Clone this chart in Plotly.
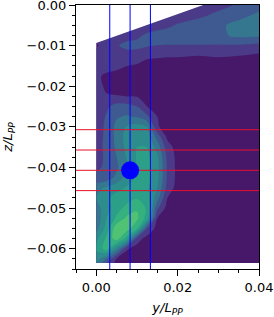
import plotly.graph_objects as go

y_grid = [0.0, 0.0025, 0.005, 0.0075, 0.01, 0.0125, 0.015, 0.0175, 0.02, 0.025, 0.03, 0.035, 0.04]
z_grid = [0.0, -0.0025, -0.005, -0.0075, -0.01, -0.0125, -0.015, -0.0175, -0.02, -0.0225, -0.025,
          -0.0275, -0.03, -0.0325, -0.035, -0.0375, -0.04, -0.0425, -0.045, -0.0475, -0.05,
          -0.0525, -0.055, -0.0575, -0.06, -0.0625, -0.0635]
field = [
    [1.2, 1.2, 1.2, 1.2, 1.2, 1.2, 1.2, 1.2, 1.2, 1.5, 1.7, 2.1, 2.6],
    [1.3, 1.3, 1.3, 1.3, 1.3, 1.3, 1.3, 1.3, 1.4, 1.8, 2.2, 2.7, 3.2],
    [1.3, 1.3, 1.3, 1.3, 1.3, 1.4, 1.6, 1.8, 2.1, 2.4, 2.8, 3.3, 3.5],
    [1.3, 1.3, 1.3, 1.6, 1.8, 2.2, 2.4, 2.5, 2.5, 2.6, 2.8, 3.2, 3.2],
    [0.9, 1.4, 1.9, 2.3, 2.3, 2.1, 1.98, 1.95, 1.95, 1.95, 1.9, 1.9, 1.7],
    [1.3, 1.4, 1.5, 1.5, 1.4, 1.1, 1.1, 1.05, 1.05, 1.0, 1.05, 1.0, 0.8],
    [1.2, 1.2, 1.15, 1.0, 0.9, 0.8, 0.7, 0.7, 0.7, 0.7, 0.7, 0.7, 0.6],
    [1.1, 0.9, 0.8, 0.7, 0.6, 0.6, 0.5, 0.5, 0.5, 0.5, 0.5, 0.5, 0.5],
    [1.2, 0.9, 0.7, 0.6, 0.5, 0.5, 0.5, 0.5, 0.5, 0.5, 0.5, 0.5, 0.5],
    [1.3, 1.05, 1.05, 1.0, 0.95, 0.8, 0.5, 0.5, 0.5, 0.5, 0.5, 0.5, 0.5],
    [1.3, 1.8, 2.4, 2.4, 2.0, 1.0, 0.5, 0.5, 0.5, 0.5, 0.5, 0.5, 0.5],
    [1.4, 2.1, 2.9, 3.1, 2.9, 2.2, 1.0, 0.5, 0.5, 0.5, 0.5, 0.5, 0.5],
    [1.5, 2.2, 3.3, 4.1, 4.4, 4.0, 1.1, 0.6, 0.5, 0.5, 0.5, 0.5, 0.5],
    [1.6, 2.2, 3.3, 4.4, 4.9, 4.5, 2.6, 0.8, 0.5, 0.5, 0.5, 0.5, 0.5],
    [1.7, 2.2, 3.2, 4.3, 5.0, 5.0, 3.6, 1.4, 0.6, 0.5, 0.5, 0.5, 0.5],
    [1.8, 2.1, 3.0, 4.1, 5.1, 5.3, 4.2, 1.7, 0.7, 0.5, 0.5, 0.5, 0.5],
    [1.9, 2.1, 2.8, 4.0, 5.1, 5.4, 4.4, 1.8, 0.7, 0.5, 0.5, 0.5, 0.5],
    [2.2, 2.4, 3.3, 4.4, 5.2, 5.4, 4.3, 1.8, 0.7, 0.5, 0.5, 0.5, 0.5],
    [3.6, 4.2, 4.6, 5.1, 5.3, 5.2, 4.0, 1.6, 0.6, 0.5, 0.5, 0.5, 0.5],
    [4.0, 4.8, 5.5, 5.6, 5.9, 5.4, 3.4, 1.0, 0.5, 0.5, 0.5, 0.5, 0.5],
    [3.6, 4.6, 5.6, 6.3, 6.9, 5.8, 2.2, 0.6, 0.5, 0.5, 0.5, 0.5, 0.5],
    [3.2, 5.0, 6.2, 7.2, 7.2, 5.5, 1.0, 0.5, 0.5, 0.5, 0.5, 0.5, 0.5],
    [3.6, 5.4, 7.7, 7.5, 6.2, 1.9, 0.6, 0.5, 0.5, 0.5, 0.5, 0.5, 0.5],
    [4.7, 6.2, 7.5, 5.6, 1.5, 0.6, 0.5, 0.5, 0.5, 0.5, 0.5, 0.5, 0.5],
    [5.2, 6.5, 4.0, 1.1, 0.6, 0.5, 0.5, 0.5, 0.5, 0.5, 0.5, 0.5, 0.5],
    [4.5, 3.0, 0.9, 0.5, 0.5, 0.5, 0.5, 0.5, 0.5, 0.5, 0.5, 0.5, 0.5],
    [4.1, 1.9, 0.7, 0.5, 0.5, 0.5, 0.5, 0.5, 0.5, 0.5, 0.5, 0.5, 0.5],
]
band_colors = ["#47176a", "#4b3a88", "#3f5a90", "#34778f", "#2d8c8c", "#2b9f87", "#35b07f", "#4fc274", "#8ed45d"]
blank_y = [-0.0002, 0.0263, -0.0002]
blank_z = [-0.0094, 0.0, 0.0]
vertical_y = [0.0033, 0.0083, 0.0133]
horizontal_z = [-0.0307, -0.0357, -0.0407, -0.0457]
probe_y = [0.0083]
probe_z = [-0.0407]
x_range = [-0.005, 0.04]
z_range = [-0.065, 0.0]

n = len(band_colors)
scale = [[0, band_colors[0]]]
for i, c in enumerate(band_colors):
    upper = min((i + 1.4) / n, 1)
    lower = (i + 0.4) / n
    if i > 0:
        scale.append([lower, c])
    scale.append([upper, c])

fig = go.Figure()
fig.add_trace(go.Contour(
    x=y_grid, y=z_grid, z=field, zmin=0, zmax=n, colorscale=scale, showscale=False,
    autocontour=False, contours=dict(start=0, end=n, size=1, coloring="fill"),
    line=dict(width=0), hoverinfo="skip"))
fig.add_trace(go.Scatter(x=blank_y, y=blank_z, mode="lines", fill="toself",
                         fillcolor="white", line=dict(width=0)))
for v in vertical_y:
    fig.add_trace(go.Scatter(x=[v, v], y=z_range, mode="lines", line=dict(color="#0000ff", width=1)))
for h in horizontal_z:
    fig.add_trace(go.Scatter(x=x_range, y=[h, h], mode="lines", line=dict(color="#e8102a", width=1)))
fig.add_trace(go.Scatter(x=probe_y, y=probe_z, mode="markers",
                         marker=dict(color="#0000ff", size=18, line=dict(width=0))))

font = dict(family="DejaVu Sans", size=13, color="black")
axis = dict(showgrid=False, zeroline=False, showline=True, linecolor="black", linewidth=1, mirror=True,
            ticks="outside", ticklen=6, tickwidth=1, tickcolor="black", tickformat=".2f", tickfont=font,
            ticklabeloverflow="allow", automargin=False)
fig.update_layout(
    width=274, height=317, autosize=False, showlegend=False,
    margin=dict(l=75.5, r=15, t=5, b=47.5),
    paper_bgcolor="white", plot_bgcolor="white",
    xaxis=dict(axis, range=x_range, tick0=0, dtick=0.02,
               minor=dict(dtick=0.005, tick0=0, ticks="outside", ticklen=3, tickwidth=1, tickcolor="black", showgrid=False),
               title=dict(text="<i>y/L</i><sub><i>PP</i></sub>", font=font, standoff=10)),
    yaxis=dict(axis, range=z_range, tick0=0, dtick=0.01,
               minor=dict(dtick=0.0025, tick0=0, ticks="outside", ticklen=3, tickwidth=1, tickcolor="black", showgrid=False),
               title=dict(text="<i>z/L</i><sub><i>PP</i></sub>", font=font, standoff=14)),
)
fig.write_html("out.html", config=dict(displayModeBar=False),
               post_script="document.body.style.margin='0';document.documentElement.style.overflow='hidden';")
